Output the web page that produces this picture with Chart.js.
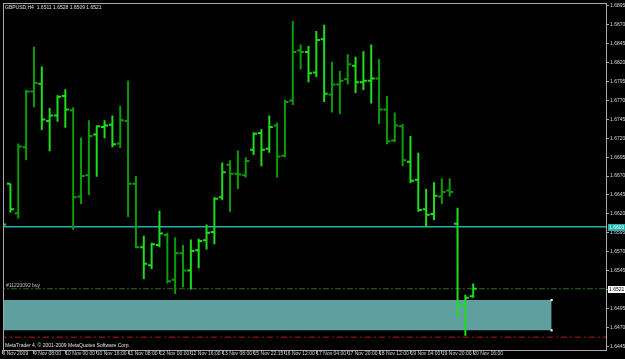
<!DOCTYPE html>
<html lang="en">
<head>
<meta charset="UTF-8">
<title>GBPUSD,H4</title>
<script src="https://cdn.jsdelivr.net/npm/chart.js"></script>
<style>
  html, body { margin: 0; padding: 0; background: #000; }
</style>
</head>
<body>
<canvas id="gbpusdChart" width="625" height="359"></canvas>

<script>
// H4 bars, oldest first (bar 0 = 6 Nov 2009)
const opens  = [1.6600, 1.6660, 1.6621, 1.6708, 1.6782, 1.6792, 1.6743, 1.6750, 1.6776, 1.6757,
                1.6643, 1.6671, 1.6725, 1.6735, 1.6738, 1.6713, 1.6743, 1.6660, 1.6576, 1.6552,
                1.6579, 1.6592, 1.6533, 1.6568, 1.6545, 1.6572, 1.6585, 1.6596, 1.6642, 1.6685,
                1.6673, 1.6671, 1.6705, 1.6727, 1.6706, 1.6737, 1.6697, 1.6770, 1.6836, 1.6834,
                1.6807, 1.6851, 1.6778, 1.6791, 1.6798, 1.6816, 1.6794, 1.6796, 1.6799, 1.6758,
                1.6717, 1.6736, 1.6689, 1.6665, 1.6626, 1.6620, 1.6643, 1.6651, 1.6607, 1.6500,
                1.6511];
const highs  = [1.6611, 1.6660, 1.6713, 1.6784, 1.6841, 1.6815, 1.6760, 1.6777, 1.6785, 1.6761,
                1.6721, 1.6744, 1.6737, 1.6744, 1.6750, 1.6763, 1.6796, 1.6670, 1.6591, 1.6582,
                1.6624, 1.6595, 1.6589, 1.6579, 1.6586, 1.6587, 1.6606, 1.6642, 1.6688, 1.6691,
                1.6704, 1.6695, 1.6728, 1.6732, 1.6750, 1.6741, 1.6771, 1.6875, 1.6844, 1.6842,
                1.6862, 1.6870, 1.6821, 1.6809, 1.6831, 1.6828, 1.6835, 1.6844, 1.6825, 1.6776,
                1.6754, 1.6739, 1.6723, 1.6701, 1.6653, 1.6662, 1.6667, 1.6667, 1.6628, 1.6513,
                1.6528];
const lows   = [1.6591, 1.6622, 1.6614, 1.6691, 1.6761, 1.6731, 1.6703, 1.6742, 1.6734, 1.6599,
                1.6633, 1.6645, 1.6669, 1.6720, 1.6708, 1.6707, 1.6616, 1.6575, 1.6534, 1.6547,
                1.6576, 1.6528, 1.6514, 1.6523, 1.6520, 1.6548, 1.6573, 1.6580, 1.6638, 1.6623,
                1.6653, 1.6668, 1.6698, 1.6683, 1.6701, 1.6668, 1.6695, 1.6764, 1.6811, 1.6794,
                1.6801, 1.6768, 1.6754, 1.6752, 1.6791, 1.6780, 1.6784, 1.6766, 1.6739, 1.6712,
                1.6715, 1.6683, 1.6661, 1.6623, 1.6603, 1.6612, 1.6633, 1.6643, 1.6484, 1.6459,
                1.6509];
const closes = [1.6606, 1.6626, 1.6709, 1.6782, 1.6793, 1.6745, 1.6750, 1.6775, 1.6758, 1.6642,
                1.6670, 1.6723, 1.6736, 1.6737, 1.6712, 1.6744, 1.6660, 1.6576, 1.6554, 1.6580,
                1.6594, 1.6531, 1.6568, 1.6545, 1.6571, 1.6584, 1.6595, 1.6640, 1.6675, 1.6673,
                1.6672, 1.6690, 1.6726, 1.6705, 1.6735, 1.6696, 1.6768, 1.6834, 1.6834, 1.6806,
                1.6850, 1.6779, 1.6791, 1.6796, 1.6818, 1.6794, 1.6796, 1.6799, 1.6758, 1.6716,
                1.6737, 1.6691, 1.6664, 1.6625, 1.6619, 1.6644, 1.6649, 1.6649, 1.6500, 1.6509,
                1.6521];

// time axis: bar index of each label and its text
const timeTickBars = [0, 4, 8, 12, 16, 20, 24, 28, 32, 36, 40, 44, 48, 52, 56, 60];
const timeLabels = ['6 Nov 2009', '9 Nov 08:00', '10 Nov 00:00', '10 Nov 16:00', '11 Nov 08:00',
                    '12 Nov 00:00', '12 Nov 16:00', '13 Nov 08:00', '15 Nov 22:15', '16 Nov 12:00',
                    '17 Nov 04:00', '17 Nov 20:00', '18 Nov 12:00', '19 Nov 04:00', '19 Nov 20:00',
                    '20 Nov 16:00'];

// price axis labels
const priceTicks = [1.6445, 1.6470, 1.6495, 1.6520, 1.6545, 1.6570, 1.6595, 1.6620, 1.6645, 1.6670,
                    1.6695, 1.6720, 1.6745, 1.6770, 1.6795, 1.6820, 1.6845, 1.6870, 1.6895];

// objects on the chart
const levelPrice = 1.6603;
const orderPrice = 1.6521;
const stopPrice = 1.6457;
const boxTop = 1.6506;
const boxBottom = 1.6466;
const boxEndBar = 70;
const orderText = '#11220092 buy';
const titleText = 'GBPUSD,H4  1.6511 1.6528 1.6509 1.6521';
const footerText = 'MetaTrader 4, \u00a9 2001-2009 MetaQuotes Software Corp.';

// bars drawn in the darker green (runs of bar indices)
const darkRuns = [[2, 4], [9, 11], [15, 17], [21, 23], [29, 31], [35, 38], [42, 44], [48, 51], [56, 57]];
const isDark = i => darkRuns.some(r => i >= r[0] && i <= r[1]);

const FONT = "'Liberation Sans', Arial, sans-serif";
const TICK = 0.45; // open/close tick length in bars

// each OHLC bar as three short line pieces, split by gaps
function barPieces(keep) {
    const pts = [];
    opens.forEach((o, i) => {
        if (!keep(i)) return;
        pts.push({x: i, y: lows[i]}, {x: i, y: highs[i]}, {x: i, y: null});
        pts.push({x: i - TICK, y: o}, {x: i, y: o}, {x: i, y: null});
        pts.push({x: i, y: closes[i]}, {x: i + TICK, y: closes[i]}, {x: i, y: null});
    });
    return pts;
}

function hline(price, x0, x1) {
    return [{x: x0, y: price}, {x: x1, y: price}];
}

// frame, texts and the price boxes on the right
const overlay = {
    id: 'overlay',
    afterDraw(chart) {
        const {ctx, chartArea: a, scales} = chart;
        const y = scales.y;
        ctx.save();
        ctx.strokeStyle = '#a8a8a8';
        ctx.lineWidth = 1;
        ctx.strokeRect(a.left - 0.5, a.top - 0.5, a.right - a.left + 1, a.bottom - a.top + 1);

        ctx.font = '5px ' + FONT;
        ctx.textBaseline = 'middle';
        ctx.textAlign = 'left';
        ctx.fillStyle = '#e0e0e0';
        ctx.fillText(titleText, a.left + 1, a.top + 4);
        ctx.fillText(footerText, a.left + 1, a.bottom - 4);
        ctx.fillStyle = '#c0c0c0';
        ctx.fillText(orderText, a.left + 2, y.getPixelForValue(orderPrice) - 3);

        const box = (price, bg, fg) => {
            const py = Math.round(y.getPixelForValue(price));
            ctx.fillStyle = bg;
            ctx.fillRect(a.right + 2, py - 3, 17, 7);
            ctx.fillStyle = fg;
            ctx.fillText(price.toFixed(4), a.right + 3, py + 0.5);
        };
        box(levelPrice, '#20b2aa', '#ffffff');
        box(orderPrice, '#ffffff', '#000000');
        ctx.restore();
    }
};

const ctx = document.getElementById('gbpusdChart').getContext('2d');

new Chart(ctx, {
    type: 'line',
    data: {
        datasets: [
            {
                data: barPieces(i => !isDark(i)),
                borderColor: '#1fdc1f',
                borderWidth: 2,
                borderCapStyle: 'butt',
                order: 0
            },
            {
                data: barPieces(isDark),
                borderColor: '#0a9c0a',
                borderWidth: 2,
                borderCapStyle: 'butt',
                order: 1
            },
            {
                data: [{x: boxEndBar, y: boxTop}, {x: boxEndBar, y: boxBottom}],
                showLine: false,
                pointRadius: 1.5,
                pointStyle: 'rect',
                pointBackgroundColor: '#ffffff',
                pointBorderWidth: 0,
                order: 2
            },
            {
                data: hline(levelPrice, -2, 80),
                borderColor: '#20b2aa',
                borderWidth: 1.5,
                order: 3
            },
            {
                data: hline(orderPrice, -2, 80),
                borderColor: '#2f6a2f',
                borderWidth: 1,
                borderDash: [6, 2, 2, 2],
                order: 4
            },
            {
                data: hline(stopPrice, -2, 80),
                borderColor: '#b41c1c',
                borderWidth: 1,
                borderDash: [6, 3, 2, 3],
                order: 5
            },
            {
                data: hline(boxTop, -2, boxEndBar),
                borderWidth: 0,
                fill: '+1',
                backgroundColor: '#5f9fa0',
                order: 6
            },
            {
                data: hline(boxBottom, -2, boxEndBar),
                borderWidth: 0,
                order: 7
            }
        ]
    },
    options: {
        responsive: false,
        animation: false,
        spanGaps: false,
        elements: { point: { radius: 0 }, line: { tension: 0 } },
        layout: { padding: { left: 2, top: 2, right: 0, bottom: 0 } },
        plugins: { legend: { display: false }, tooltip: { enabled: false } },
        scales: {
            x: {
                type: 'linear',
                min: 0.18,
                max: 76.93,
                afterBuildTicks: s => { s.ticks = timeTickBars.map(v => ({value: v})); },
                afterFit: s => { s.height = 9; s.paddingLeft = 0; s.paddingRight = 0; },
                border: { display: false },
                grid: { drawOnChartArea: false, tickLength: 4, color: '#a8a8a8' },
                ticks: {
                    autoSkip: false,
                    maxRotation: 0,
                    align: 'start',
                    padding: -3,
                    color: '#d8d8d8',
                    font: { family: FONT, size: 5 },
                    callback: (v, i) => timeLabels[i]
                }
            },
            y: {
                position: 'right',
                min: 1.6440,
                max: 1.68976,
                afterBuildTicks: s => { s.ticks = priceTicks.map(v => ({value: v})); },
                afterFit: s => { s.width = 19; s.paddingTop = 0; s.paddingBottom = 0; },
                border: { display: false },
                grid: { drawOnChartArea: false, tickLength: 3, color: '#a8a8a8' },
                ticks: {
                    padding: 1,
                    color: '#d8d8d8',
                    font: { family: FONT, size: 5 },
                    callback: v => v.toFixed(4)
                }
            }
        }
    },
    plugins: [overlay]
});
</script>
</body>
</html>
